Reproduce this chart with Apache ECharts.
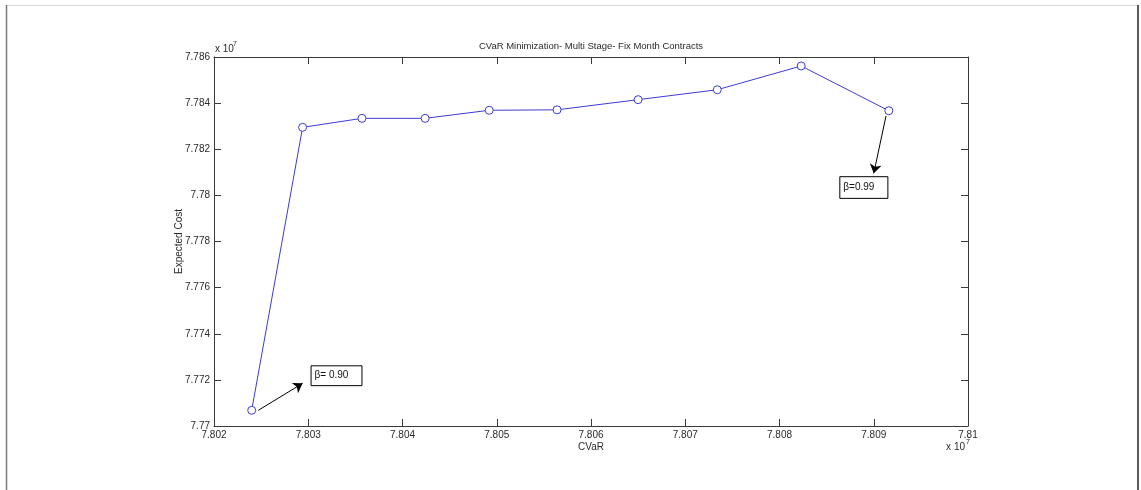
<!DOCTYPE html>
<html>
<head>
<meta charset="utf-8">
<title>CVaR Minimization- Multi Stage- Fix Month Contracts</title>
<script src="https://cdn.jsdelivr.net/npm/echarts@6/dist/echarts.min.js"></script>
<style>
  html, body { margin: 0; padding: 0; background: #fff; }
  #chart { width: 1141px; height: 490px; }
</style>
</head>
<body>
<div id="chart"></div>
<script>
// Efficient frontier points, one per confidence level beta (0.90 ... 0.99)
const cvar = [78024000, 78029400, 78035700, 78042400, 78049200, 78056400, 78065000, 78073400, 78082300, 78091600];
const expectedCost = [77706800, 77829500, 77833400, 77833400, 77836900, 77837100, 77841500, 77845800, 77856100, 77836700];

// Axis ranges and tick spacing (raw units; labels are shown in units of 10^7)
const xRange = [78020000, 78100000, 10000];
const yRange = [77700000, 77860000, 20000];

// Callout arrows (tail -> head) and their text boxes, in data units
const calloutText = ['\u03b2= 0.90', '\u03b2=0.99'];
const arrowFrom = [[78024700, 77706800], [78091300, 77834400]];
const arrowTo = [[78029400, 77718500], [78090000, 77809600]];
const boxTopLeft = [[78030300, 77726100], [78086400, 77808100]];
const boxBottomRight = [[78035700, 77717500], [78091500, 77798700]];

const FONT = '"Liberation Sans", Arial, sans-serif';
const LINE_BLUE = '#3c3cd2';
const AXIS_GREY = '#3a3a3a';
const TEXT_GREY = '#2a2a2a';

const G = { left: 214, top: 57, width: 754, height: 369 };

const fmt = v => String(Number((v / 1e7).toFixed(4)));

const chart = echarts.init(document.getElementById('chart'), null, { renderer: 'canvas' });

const baseAxis = {
  type: 'value',
  axisLine: { show: true, onZero: false, lineStyle: { color: AXIS_GREY, width: 1 } },
  axisTick: { show: true, inside: true, length: 7, lineStyle: { color: AXIS_GREY, width: 1 } },
  splitLine: { show: false }
};

chart.setOption({
  animation: false,
  backgroundColor: '#ffffff',
  grid: { left: G.left, top: G.top, width: G.width, height: G.height, containLabel: false },
  xAxis: [
    Object.assign({}, baseAxis, {
      position: 'bottom',
      min: xRange[0], max: xRange[1], interval: xRange[2],
      axisLabel: { formatter: fmt, color: TEXT_GREY, fontSize: 10, fontFamily: FONT, margin: 4 }
    }),
    Object.assign({}, baseAxis, {
      position: 'top',
      min: xRange[0], max: xRange[1], interval: xRange[2],
      axisLabel: { show: false }
    })
  ],
  yAxis: [
    Object.assign({}, baseAxis, {
      position: 'left',
      min: yRange[0], max: yRange[1], interval: yRange[2],
      axisLabel: { formatter: fmt, color: TEXT_GREY, fontSize: 10, fontFamily: FONT, margin: 4 }
    }),
    Object.assign({}, baseAxis, {
      position: 'right',
      min: yRange[0], max: yRange[1], interval: yRange[2],
      axisLabel: { show: false }
    })
  ],
  series: [{
    type: 'line',
    data: cvar.map((x, i) => [x, expectedCost[i]]),
    symbol: 'circle',
    symbolSize: 8,
    showSymbol: true,
    lineStyle: { color: LINE_BLUE, width: 1 },
    itemStyle: { color: '#ffffff', borderColor: LINE_BLUE, borderWidth: 1 },
    emphasis: { disabled: true },
    markLine: {
      silent: true,
      symbol: ['none', 'arrow'],
      symbolSize: 9,
      label: { show: false },
      lineStyle: { color: '#000', width: 1, type: 'solid' },
      emphasis: { disabled: true },
      data: arrowFrom.map((p, i) => [{ coord: p }, { coord: arrowTo[i] }])
    },
    markArea: {
      silent: true,
      itemStyle: { color: '#ffffff', borderColor: '#000', borderWidth: 1 },
      label: {
        show: true, position: 'insideLeft', distance: 4,
        color: '#111', fontSize: 10, fontFamily: FONT
      },
      emphasis: { disabled: true },
      data: boxTopLeft.map((p, i) => [
        { coord: p, name: calloutText[i] },
        { coord: boxBottomRight[i] }
      ])
    }
  }],
  graphic: [
    // figure frame
    { type: 'line', shape: { x1: 6, y1: 5.5, x2: 1138, y2: 5.5 }, style: { stroke: '#d9d9d9', lineWidth: 1 } },
    { type: 'line', shape: { x1: 6.5, y1: 5, x2: 6.5, y2: 490 }, style: { stroke: '#7a7a7a', lineWidth: 1.5 } },
    { type: 'line', shape: { x1: 1138, y1: 5, x2: 1138, y2: 490 }, style: { stroke: '#5a5a5a', lineWidth: 2 } },
    // title
    {
      type: 'text', x: G.left + G.width / 2, y: 46,
      style: { text: 'CVaR Minimization- Multi Stage- Fix Month Contracts', fill: TEXT_GREY,
        font: '9.5px ' + FONT, textAlign: 'center', textVerticalAlign: 'middle' }
    },
    // axis names
    {
      type: 'text', x: G.left + G.width / 2, y: 447,
      style: { text: 'CVaR', fill: TEXT_GREY, font: '10px ' + FONT, textAlign: 'center', textVerticalAlign: 'middle' }
    },
    {
      type: 'text', x: 179, y: G.top + G.height / 2, rotation: Math.PI / 2,
      style: { text: 'Expected Cost', fill: TEXT_GREY, font: '10px ' + FONT, textAlign: 'center', textVerticalAlign: 'middle' }
    },
    // exponent markers
    {
      type: 'text', x: G.left + 1, y: 49,
      style: { text: 'x 10', fill: TEXT_GREY, font: '10px ' + FONT, textAlign: 'left', textVerticalAlign: 'middle' }
    },
    {
      type: 'text', x: G.left + 19, y: 44,
      style: { text: '7', fill: TEXT_GREY, font: '7px ' + FONT, textAlign: 'left', textVerticalAlign: 'middle' }
    },
    {
      type: 'text', x: G.left + G.width - 3, y: 447,
      style: { text: 'x 10', fill: TEXT_GREY, font: '10px ' + FONT, textAlign: 'right', textVerticalAlign: 'middle' }
    },
    {
      type: 'text', x: G.left + G.width - 2, y: 442,
      style: { text: '7', fill: TEXT_GREY, font: '7px ' + FONT, textAlign: 'left', textVerticalAlign: 'middle' }
    }
  ]
});
</script>
</body>
</html>
